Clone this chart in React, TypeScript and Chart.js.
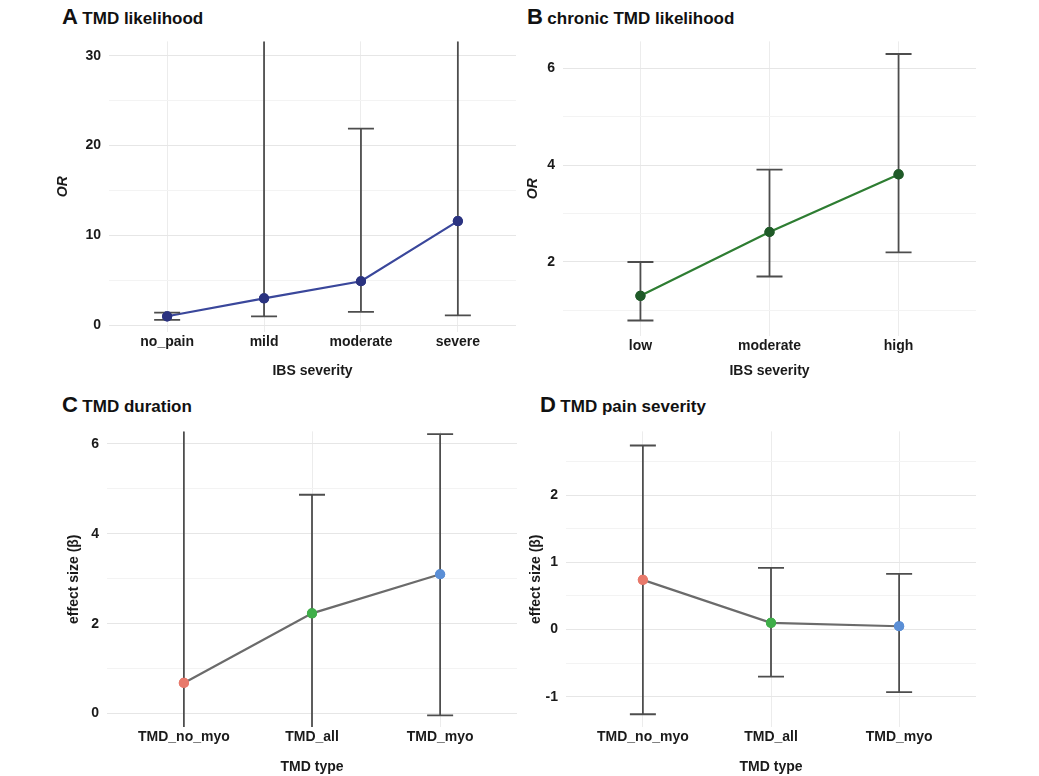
import React, { useEffect, useRef } from "react";
import { Chart, registerables } from "chart.js";
Chart.register(...registerables);

const catsA = ["no_pain", "mild", "moderate", "severe"];
const orA = [1.0, 3.0, 4.9, 11.6];
const loA = [0.6, 1.0, 1.5, 1.1];
const hiA = [1.4, 40, 21.9, 40];
const ticksA = [0, 5, 10, 15, 20, 25, 30];

const catsB = ["low", "moderate", "high"];
const orB = [1.3, 2.62, 3.81];
const loB = [0.79, 1.7, 2.2];
const hiB = [2.0, 3.91, 6.3];
const ticksB = [1, 2, 3, 4, 5, 6];

const catsCD = ["TMD_no_myo", "TMD_all", "TMD_myo"];
const betaC = [0.68, 2.23, 3.1];
const loC = [-1, -1, -0.04];
const hiC = [8, 4.87, 6.22];
const ticksC = [0, 1, 2, 3, 4, 5, 6];

const betaD = [0.74, 0.1, 0.05];
const loD = [-1.26, -0.7, -0.93];
const hiD = [2.74, 0.92, 0.83];
const ticksD = [-1, -0.5, 0, 0.5, 1, 1.5, 2, 2.5];

const FONT = "'Liberation Sans', Arial, sans-serif";

type P = {
  cats: string[]; vals: number[]; lo: number[]; hi: number[]; yt: number[]; major: number;
  ymin: number; ymax: number; line: string; pts: string | string[]; yTitle: string; yItalic: boolean;
  xTitle: string; yw: number; xh: number; padTop: number; padRight: number; xTitlePad: number;
};

function Panel(p: P & { style: React.CSSProperties; w: number; h: number }) {
  const ref = useRef<HTMLCanvasElement>(null);
  useEffect(() => {
    const errPlugin = {
      id: "err",
      afterDatasetsDraw(chart: any) {
        const { ctx, chartArea: a, scales } = chart;
        ctx.save();
        ctx.beginPath();
        ctx.rect(a.left, a.top, a.right - a.left, a.bottom - a.top);
        ctx.clip();
        ctx.strokeStyle = "#4d4d4d";
        ctx.lineWidth = 1.8;
        p.cats.forEach((_, i) => {
          const x = scales.x.getPixelForValue(i);
          const y1 = scales.y.getPixelForValue(p.lo[i]);
          const y2 = scales.y.getPixelForValue(p.hi[i]);
          ctx.beginPath();
          ctx.moveTo(x, y1); ctx.lineTo(x, y2);
          ctx.moveTo(x - 13, y1); ctx.lineTo(x + 13, y1);
          ctx.moveTo(x - 13, y2); ctx.lineTo(x + 13, y2);
          ctx.stroke();
        });
        ctx.restore();
        const meta = chart.getDatasetMeta(0);
        meta.data.forEach((el: any) => el.draw(ctx, a));
      },
    };
    const n = p.cats.length;
    const chart = new Chart(ref.current!, {
      type: "line",
      data: {
        datasets: [{
          data: p.vals.map((v, i) => ({ x: i, y: v })),
          borderColor: p.line, borderWidth: 2.2,
          pointBackgroundColor: p.pts as any, pointBorderColor: p.pts as any,
          pointRadius: 4, tension: 0,
        }],
      },
      options: {
        animation: false, responsive: false,
        layout: { padding: { top: p.padTop, right: p.padRight, left: 0, bottom: 0 } },
        plugins: { legend: { display: false }, tooltip: { enabled: false } },
        scales: {
          x: {
            type: "linear", min: -0.6, max: n - 0.4,
            afterBuildTicks: (s: any) => { s.ticks = p.cats.map((_, i) => ({ value: i })); },
            afterFit: (s: any) => { s.height = p.xh; },
            ticks: { callback: (v: any) => p.cats[v], color: "#1a1a1a", font: { family: FONT, size: 14, weight: "bold" }, padding: 2, maxRotation: 0 },
            grid: { color: "#ececec", drawTicks: false },
            border: { display: false },
            title: { display: true, text: p.xTitle, color: "#1a1a1a", font: { family: FONT, size: 14, weight: "bold" }, padding: { top: p.xTitlePad, bottom: 0 } },
          },
          y: {
            type: "linear", min: p.ymin, max: p.ymax,
            afterBuildTicks: (s: any) => { s.ticks = p.yt.map((v) => ({ value: v })); },
            afterFit: (s: any) => { s.width = p.yw; },
            ticks: {
              callback: (v: any) => (Math.abs(v / p.major - Math.round(v / p.major)) < 1e-6 ? String(v) : ""),
              color: "#1a1a1a", font: { family: FONT, size: 14, weight: "bold" }, padding: 8,
            },
            grid: {
              color: (c: any) => (Math.abs(c.tick.value / p.major - Math.round(c.tick.value / p.major)) < 1e-6 ? "#e6e6e6" : "#f3f3f3"),
              drawTicks: false,
            },
            border: { display: false },
            title: { display: true, text: p.yTitle, color: "#1a1a1a", font: { family: FONT, size: 14, weight: "bold", style: p.yItalic ? "italic" : "normal" }, padding: 0 },
          },
        },
      } as any,
      plugins: [errPlugin],
    });
    return () => chart.destroy();
  }, []);
  return <canvas ref={ref} width={p.w} height={p.h} style={{ position: "absolute", ...p.style, width: p.w, height: p.h }} />;
}

function Title({ l, t, x, y }: { l: string; t: string; x: number; y: number }) {
  return (
    <div style={{ position: "absolute", left: x, top: y, fontFamily: FONT, fontWeight: "bold", color: "#111", whiteSpace: "nowrap" }}>
      <span style={{ fontSize: 22 }}>{l}</span> <span style={{ fontSize: 17 }}>{t}</span>
    </div>
  );
}

export default function App() {
  const cd = ["#e8796b", "#3fae49", "#5b8fd6"];
  return (
    <div style={{ position: "absolute", left: 0, top: 0, width: 1039, height: 776, background: "#fff", overflow: "hidden" }}>
      <Title l="A" t="TMD likelihood" x={62} y={4} />
      <Title l="B" t="chronic TMD likelihood" x={527} y={4} />
      <Title l="C" t="TMD duration" x={62} y={392} />
      <Title l="D" t="TMD pain severity" x={540} y={392} />
      <Panel style={{ left: 55, top: 25 }} w={475} h={355}
        cats={catsA} vals={orA} lo={loA} hi={hiA} yt={ticksA} major={10} ymin={-0.75} ymax={31.6}
        line="#3a479b" pts="#2b3380" yTitle="OR" yItalic xTitle="IBS severity" yw={54} xh={48} padTop={5} padRight={14} xTitlePad={0} />
      <Panel style={{ left: 525, top: 25 }} w={514} h={355}
        cats={catsB} vals={orB} lo={loB} hi={hiB} yt={ticksB} major={2} ymin={0.47} ymax={6.56}
        line="#2e7d32" pts="#1f5a28" yTitle="OR" yItalic xTitle="IBS severity" yw={38} xh={44} padTop={8} padRight={63} xTitlePad={0} />
      <Panel style={{ left: 66, top: 415 }} w={464} h={361}
        cats={catsCD} vals={betaC} lo={loC} hi={hiC} yt={ticksC} major={2} ymin={-0.3} ymax={6.28}
        line="#6b6b6b" pts={cd} yTitle="effect size (β)" yItalic={false} xTitle="TMD type" yw={41} xh={49} padTop={10} padRight={13} xTitlePad={12} />
      <Panel style={{ left: 528, top: 415 }} w={511} h={361}
        cats={catsCD} vals={betaD} lo={loD} hi={hiD} yt={ticksD} major={1} ymin={-1.45} ymax={2.95}
        line="#6b6b6b" pts={cd} yTitle="effect size (β)" yItalic={false} xTitle="TMD type" yw={38} xh={49} padTop={10} padRight={63} xTitlePad={12} />
    </div>
  );
}
